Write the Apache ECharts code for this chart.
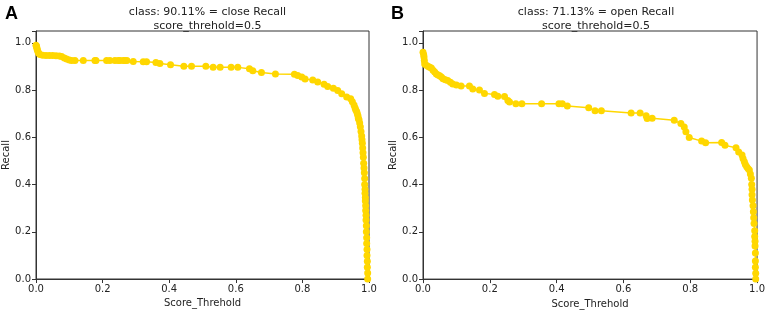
<!DOCTYPE html>
<html>
<head>
<meta charset="utf-8">
<script src="https://cdn.jsdelivr.net/npm/echarts@6/dist/echarts.min.js"></script>
<style>
html,body{margin:0;padding:0;background:#fff;}
#chart{width:768px;height:314px;}
</style>
</head>
<body>
<div id="chart"></div>
<script>
// Panel A: close
const scoreA = [0, 0.001, 0.002, 0.003, 0.004, 0.006, 0.008, 0.012, 0.02, 0.03, 0.04, 0.05, 0.06, 0.07, 0.077, 0.085, 0.092, 0.1, 0.107, 0.117,
  0.142, 0.177, 0.18, 0.212, 0.222, 0.237, 0.247, 0.252, 0.262, 0.267, 0.273, 0.292, 0.322, 0.332, 0.36, 0.372, 0.404, 0.444,
  0.467, 0.51, 0.532, 0.553, 0.586, 0.606, 0.641, 0.651, 0.677, 0.719, 0.776, 0.786, 0.798, 0.808, 0.831, 0.846, 0.865, 0.876,
  0.893, 0.906, 0.918, 0.933, 0.945, 0.95, 0.955, 0.958, 0.96, 0.963, 0.965, 0.967, 0.968, 0.97, 0.972, 0.974, 0.976, 0.978,
  0.979, 0.98, 0.981, 0.982, 0.983, 0.984, 0.985, 0.986, 0.987, 0.987, 0.988, 0.988, 0.989, 0.989, 0.99, 0.99, 0.991, 0.991,
  0.992, 0.992, 0.993, 0.993, 0.994, 0.994, 0.995, 0.995, 0.996, 0.996];
const recallA = [0.99, 0.987, 0.982, 0.976, 0.97, 0.962, 0.956, 0.95, 0.947, 0.946, 0.946, 0.946, 0.945, 0.944, 0.942, 0.936, 0.931, 0.927, 0.925, 0.925,
  0.925, 0.925, 0.925, 0.925, 0.925, 0.925, 0.925, 0.925, 0.925, 0.925, 0.925, 0.921, 0.92, 0.92, 0.917, 0.912, 0.907, 0.901,
  0.901, 0.901, 0.897, 0.896, 0.896, 0.896, 0.89, 0.882, 0.874, 0.868, 0.867, 0.862, 0.855, 0.847, 0.843, 0.834, 0.825, 0.815,
  0.808, 0.798, 0.784, 0.771, 0.763, 0.75, 0.737, 0.725, 0.717, 0.709, 0.7, 0.69, 0.68, 0.674, 0.66, 0.645, 0.625, 0.605,
  0.59, 0.575, 0.555, 0.535, 0.515, 0.49, 0.47, 0.45, 0.425, 0.4, 0.38, 0.363, 0.345, 0.33, 0.31, 0.29, 0.27, 0.25,
  0.225, 0.2, 0.175, 0.15, 0.125, 0.1, 0.075, 0.05, 0.025, 0.0];

// Panel B: open
const scoreB = [0, 0.002, 0.003, 0.004, 0.005, 0.01, 0.016, 0.02, 0.025, 0.03, 0.035, 0.04, 0.045, 0.05, 0.055, 0.06, 0.067, 0.074,
  0.082, 0.089, 0.1, 0.114, 0.139, 0.149, 0.169, 0.184, 0.214, 0.224, 0.244, 0.254, 0.259, 0.278, 0.296, 0.355, 0.407, 0.417,
  0.432, 0.496, 0.515, 0.534, 0.623, 0.65, 0.668, 0.671, 0.686, 0.752, 0.772, 0.782, 0.787, 0.797, 0.834, 0.846, 0.894, 0.904,
  0.937, 0.945, 0.955, 0.958, 0.962, 0.965, 0.969, 0.973, 0.977, 0.98, 0.983, 0.984, 0.985, 0.985, 0.986, 0.988, 0.989, 0.99,
  0.991, 0.993, 0.993, 0.994, 0.994, 0.995, 0.995, 0.995, 0.996, 0.996];
const recallB = [0.96, 0.95, 0.94, 0.925, 0.91, 0.905, 0.9, 0.897, 0.893, 0.884, 0.876, 0.868, 0.864, 0.861, 0.855, 0.848, 0.844, 0.84,
  0.833, 0.826, 0.821, 0.817, 0.817, 0.805, 0.8, 0.786, 0.781, 0.774, 0.773, 0.756, 0.75, 0.742, 0.742, 0.742, 0.742, 0.742,
  0.733, 0.725, 0.713, 0.712, 0.703, 0.703, 0.691, 0.68, 0.681, 0.672, 0.658, 0.644, 0.624, 0.599, 0.584, 0.577, 0.578, 0.566,
  0.556, 0.538, 0.525, 0.51, 0.497, 0.485, 0.476, 0.468, 0.462, 0.445, 0.427, 0.4, 0.38, 0.357, 0.335, 0.31, 0.285, 0.26,
  0.235, 0.205, 0.18, 0.16, 0.14, 0.11, 0.077, 0.05, 0.025, 0.0];

const tickValues = [0, 0.2, 0.4, 0.6, 0.8, 1.0];
const titlesTop = ['class: 90.11% = close Recall', 'class: 71.13% = open Recall'];
const titleSub = 'score_threhold=0.5';
const panelLetters = ['A', 'B'];
const xName = 'Score_Threhold';
const yName = 'Recall';

const zip = (xs, ys) => xs.map((x, i) => [x, ys[i]]);
const FONT = 'DejaVu Sans';
const GOLD = '#FFD700';

const chart = echarts.init(document.getElementById('chart'), null, {renderer: 'canvas'});

function xAxis(gi) {
  return {
    type: 'value', gridIndex: gi, min: 0, max: 1, interval: 0.2,
    name: xName, nameLocation: 'middle', nameGap: 19,
    nameTextStyle: {fontFamily: FONT, fontSize: 10, color: '#222'},
    axisLine: {show: true, onZero: false, lineStyle: {color: '#333', width: 1}},
    axisTick: {show: true, inside: false, length: 4, lineStyle: {color: '#333'}},
    axisLabel: {fontFamily: FONT, fontSize: 10, color: '#222', margin: 5, formatter: v => v.toFixed(1)},
    splitLine: {show: false}
  };
}
function yAxis(gi) {
  return {
    type: 'value', gridIndex: gi, min: 0, max: 1.05, interval: 0.2,
    name: yName, nameLocation: 'middle', nameGap: 25, nameRotate: 90,
    nameTextStyle: {fontFamily: FONT, fontSize: 10, color: '#222'},
    axisLine: {show: true, lineStyle: {color: '#333', width: 1}},
    axisTick: {show: true, inside: false, length: 4, lineStyle: {color: '#333'}},
    axisLabel: {fontFamily: FONT, fontSize: 10, color: '#222', margin: 5,
      formatter: v => (tickValues.some(t => Math.abs(t - v) < 1e-9) ? v.toFixed(1) : '')},
    splitLine: {show: false}
  };
}
function series(gi, xs, ys) {
  return {
    type: 'line', xAxisIndex: gi, yAxisIndex: gi,
    data: zip(xs, ys),
    symbol: 'circle', symbolSize: 7, showSymbol: true,
    lineStyle: {color: GOLD, width: 1.5},
    itemStyle: {color: GOLD, borderWidth: 0},
    animation: false, clip: false
  };
}

chart.setOption({
  animation: false,
  backgroundColor: '#fff',
  title: [
    {text: titlesTop[0] + '\n' + titleSub, left: 202.5, top: 0, textAlign: 'center',
      textStyle: {fontFamily: FONT, fontSize: 11, fontWeight: 'normal', color: '#222', lineHeight: 14}},
    {text: titlesTop[1] + '\n' + titleSub, left: 591, top: 0, textAlign: 'center',
      textStyle: {fontFamily: FONT, fontSize: 11, fontWeight: 'normal', color: '#222', lineHeight: 14}},
    {text: panelLetters[0], left: 0, top: 0,
      textStyle: {fontFamily: 'Liberation Sans', fontSize: 18, fontWeight: 'bold', color: '#000'}},
    {text: panelLetters[1], left: 386, top: 0,
      textStyle: {fontFamily: 'Liberation Sans', fontSize: 18, fontWeight: 'bold', color: '#000'}}
  ],
  grid: [
    {left: 36, right: 399, top: 31, bottom: 35, show: true, borderColor: '#333', borderWidth: 1, backgroundColor: 'transparent'},
    {left: 423, right: 9, top: 31, bottom: 32, show: true, borderColor: '#333', borderWidth: 1, backgroundColor: 'transparent'}
  ],
  xAxis: [xAxis(0), xAxis(1)],
  yAxis: [yAxis(0), yAxis(1)],
  series: [series(0, scoreA, recallA), series(1, scoreB, recallB)]
});
</script>
</body>
</html>
